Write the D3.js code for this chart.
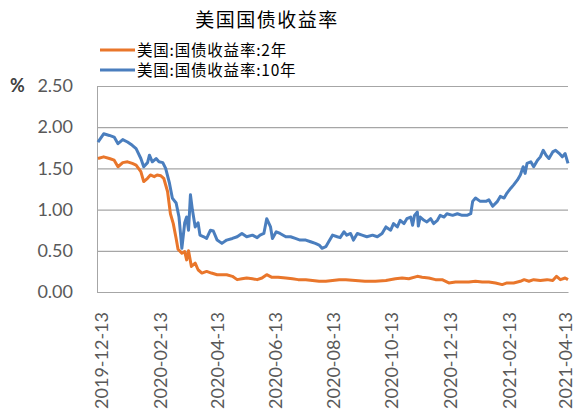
<!DOCTYPE html>
<html>
<head>
<meta charset="utf-8">
<script src="https://cdn.jsdelivr.net/npm/d3@7"></script>
<style>
  html, body { margin: 0; padding: 0; background: #fff; }
  svg { display: block; }
  .cjk { font-family: "Noto Sans CJK SC", "Noto Sans", sans-serif; }
  .num { font-family: Lato, "Open Sans", sans-serif; }
</style>
</head>
<body>
<svg id="chart" width="576" height="416"></svg>
<script>
// US Treasury yields, daily closes sampled (percent)
const dates10 = [
  "2019-12-10","2019-12-16","2019-12-22","2019-12-27","2019-12-31","2020-01-05","2020-01-10","2020-01-15",
  "2020-01-19","2020-01-24","2020-01-27","2020-01-31","2020-02-02","2020-02-05","2020-02-09","2020-02-12",
  "2020-02-16","2020-02-19","2020-02-23","2020-02-26","2020-03-01","2020-03-04","2020-03-07","2020-03-10",
  "2020-03-12","2020-03-14","2020-03-16","2020-03-18","2020-03-21","2020-03-24","2020-03-26","2020-03-30",
  "2020-04-02","2020-04-06","2020-04-09","2020-04-13","2020-04-18","2020-04-23","2020-04-29","2020-05-04",
  "2020-05-09","2020-05-14","2020-05-20","2020-05-25","2020-05-28","2020-06-01","2020-06-04","2020-06-08",
  "2020-06-10","2020-06-14","2020-06-18","2020-06-24","2020-06-29","2020-07-04","2020-07-09","2020-07-15",
  "2020-07-20","2020-07-25","2020-07-29","2020-08-01","2020-08-05","2020-08-08","2020-08-12","2020-08-17",
  "2020-08-20","2020-08-24","2020-08-27","2020-08-31","2020-09-03","2020-09-07","2020-09-12","2020-09-17",
  "2020-09-23","2020-09-28","2020-10-03","2020-10-07","2020-10-12","2020-10-15","2020-10-19","2020-10-22",
  "2020-10-26","2020-10-29","2020-11-02","2020-11-04","2020-11-06","2020-11-09","2020-11-10","2020-11-12",
  "2020-11-16","2020-11-19","2020-11-23","2020-11-26","2020-11-30","2020-12-03","2020-12-07","2020-12-10",
  "2020-12-16","2020-12-21","2020-12-26","2020-12-31","2021-01-04","2021-01-06","2021-01-09","2021-01-14",
  "2021-01-20","2021-01-23","2021-01-27","2021-02-01","2021-02-04","2021-02-08","2021-02-11","2021-02-15",
  "2021-02-18","2021-02-22","2021-02-25","2021-02-28","2021-03-02","2021-03-04","2021-03-08","2021-03-11",
  "2021-03-15","2021-03-18","2021-03-21","2021-03-24","2021-03-27","2021-03-31","2021-04-03","2021-04-07",
  "2021-04-10","2021-04-13","2021-04-16"
];
const yield10 = [
  1.82,1.92,1.90,1.88,1.80,1.85,1.82,1.78,
  1.74,1.62,1.52,1.57,1.66,1.58,1.62,1.58,
  1.57,1.50,1.32,1.14,1.08,0.91,0.53,0.84,
  0.91,0.75,1.18,1.00,0.79,0.84,0.69,0.67,
  0.65,0.75,0.74,0.63,0.59,0.63,0.65,0.67,
  0.71,0.67,0.69,0.66,0.69,0.71,0.89,0.79,
  0.65,0.73,0.71,0.67,0.67,0.65,0.63,0.63,
  0.61,0.59,0.57,0.53,0.55,0.61,0.69,0.67,
  0.66,0.73,0.69,0.71,0.63,0.71,0.69,0.67,
  0.69,0.67,0.71,0.79,0.75,0.83,0.79,0.87,
  0.83,0.89,0.91,0.81,0.93,0.97,0.80,0.91,
  0.87,0.85,0.89,0.83,0.87,0.93,0.91,0.95,
  0.93,0.95,0.93,0.93,0.95,1.10,1.14,1.10,
  1.10,1.12,1.04,1.10,1.16,1.14,1.20,1.26,
  1.30,1.36,1.42,1.52,1.44,1.56,1.58,1.52,
  1.60,1.64,1.72,1.66,1.62,1.70,1.72,1.68,
  1.64,1.68,1.56
];

const dates2 = [
  "2019-12-10","2019-12-16","2019-12-22","2019-12-27","2019-12-31","2020-01-05","2020-01-10","2020-01-15",
  "2020-01-19","2020-01-24","2020-01-27","2020-01-31","2020-02-03","2020-02-07","2020-02-10","2020-02-14",
  "2020-02-17","2020-02-21","2020-02-24","2020-02-27","2020-03-01","2020-03-03","2020-03-07","2020-03-10",
  "2020-03-12","2020-03-14","2020-03-17","2020-03-21","2020-03-24","2020-03-28","2020-04-02","2020-04-07",
  "2020-04-13","2020-04-18","2020-04-23","2020-04-29","2020-05-04","2020-05-09","2020-05-14","2020-05-20",
  "2020-05-25","2020-05-30","2020-06-04","2020-06-09","2020-06-16","2020-06-24","2020-07-01","2020-07-07",
  "2020-07-15","2020-07-22","2020-07-29","2020-08-05","2020-08-12","2020-08-19","2020-08-26","2020-09-05",
  "2020-09-15","2020-09-26","2020-10-07","2020-10-17","2020-10-24","2020-10-31","2020-11-09","2020-11-14",
  "2020-11-21","2020-11-28","2020-12-05","2020-12-12","2020-12-19","2020-12-26","2021-01-02","2021-01-09",
  "2021-01-16","2021-01-23","2021-01-30","2021-02-06","2021-02-11","2021-02-18","2021-02-25","2021-03-01",
  "2021-03-06","2021-03-11","2021-03-18","2021-03-25","2021-03-31","2021-04-04","2021-04-08","2021-04-13",
  "2021-04-16"
];
const yield2 = [
  1.62,1.64,1.62,1.60,1.52,1.57,1.58,1.56,
  1.54,1.46,1.34,1.38,1.42,1.40,1.42,1.41,
  1.38,1.22,0.95,0.83,0.65,0.52,0.47,0.49,
  0.39,0.50,0.31,0.35,0.27,0.23,0.25,0.23,
  0.21,0.21,0.21,0.19,0.15,0.16,0.17,0.16,
  0.15,0.17,0.21,0.18,0.18,0.17,0.16,0.15,
  0.15,0.14,0.13,0.13,0.14,0.15,0.15,0.14,
  0.13,0.13,0.14,0.16,0.17,0.16,0.19,0.18,
  0.17,0.15,0.15,0.11,0.12,0.12,0.12,0.13,
  0.12,0.12,0.11,0.09,0.11,0.11,0.13,0.15,
  0.13,0.15,0.14,0.15,0.14,0.19,0.15,0.17,
  0.15
];

const xTickLabels = [
  "2019-12-13","2020-02-13","2020-04-13","2020-06-13","2020-08-13",
  "2020-10-13","2020-12-13","2021-02-13","2021-04-13"
];
const yTicks = [0, 0.5, 1.0, 1.5, 2.0, 2.5];

const titleText = "美国国债收益率";
const seriesNames = ["美国:国债收益率:2年", "美国:国债收益率:10年"];
const seriesColors = ["#E9762B", "#4A7EBE"];

const parse = d3.timeParse("%Y-%m-%d");
const svg = d3.select("#chart");

const margin = { left: 97, right: 8, top: 86, bottom: 124 };
const W = 576, H = 416;

const x = d3.scaleTime()
  .domain([parse("2019-12-09"), parse("2021-04-16")])
  .range([margin.left, W - margin.right]);
const y = d3.scaleLinear()
  .domain([0, 2.5])
  .range([H - margin.bottom, margin.top]);

// horizontal gridlines
const yAxis = d3.axisLeft(y)
  .tickValues(yTicks)
  .tickSize(-(W - margin.right - margin.left))
  .tickFormat(d => d.toFixed(2));
const gy = svg.append("g")
  .attr("transform", `translate(${margin.left},0)`)
  .call(yAxis);
gy.select(".domain").attr("stroke", "#A6A6A6");
gy.selectAll(".tick line").attr("stroke", "#A6A6A6").attr("stroke-width", 1.2);
gy.selectAll(".tick text")
  .attr("class", "num")
  .attr("x", -24)
  .attr("fill", "#595959")
  .attr("font-size", 18);

// unit label beside the top tick
svg.append("text")
  .attr("class", "num")
  .attr("x", 10)
  .attr("y", y(2.5))
  .attr("dy", "0.35em")
  .attr("fill", "#404040")
  .attr("font-size", 18)
  .attr("font-weight", "bold")
  .text("%");

// x axis
const xAxis = d3.axisBottom(x)
  .tickValues(xTickLabels.map(parse))
  .tickSize(0)
  .tickFormat(d3.timeFormat("%Y-%m-%d"));
const gx = svg.append("g")
  .attr("transform", `translate(0,${y(0)})`)
  .call(xAxis);
gx.select(".domain").attr("stroke", "#A6A6A6").attr("stroke-width", 1.2);
gx.selectAll(".tick text")
  .attr("class", "num")
  .attr("fill", "#595959")
  .attr("font-size", 18)
  .attr("text-anchor", "end")
  .attr("transform", "rotate(-90)")
  .attr("x", -20)
  .attr("y", 0)
  .attr("dy", "0.35em");

// series lines
const line = d3.line()
  .x(d => x(d.date))
  .y(d => y(d.value));

const s2 = dates2.map((d, i) => ({ date: parse(d), value: yield2[i] }));
const s10 = dates10.map((d, i) => ({ date: parse(d), value: yield10[i] }));

[s2, s10].forEach((s, i) => {
  svg.append("path")
    .datum(s)
    .attr("fill", "none")
    .attr("stroke", seriesColors[i])
    .attr("stroke-width", 3)
    .attr("stroke-linejoin", "round")
    .attr("d", line);
});

// title
svg.append("text")
  .attr("class", "cjk")
  .attr("x", 267)
  .attr("y", 27)
  .attr("text-anchor", "middle")
  .attr("fill", "#000")
  .attr("font-size", 19)
  .attr("letter-spacing", 1.5)
  .text(titleText);

// legend
const legend = svg.append("g");
seriesNames.forEach((name, i) => {
  const ly = 50 + i * 20;
  legend.append("line")
    .attr("x1", 100).attr("x2", 135)
    .attr("y1", ly).attr("y2", ly)
    .attr("stroke", seriesColors[i])
    .attr("stroke-width", 3);
  legend.append("text")
    .attr("class", "cjk")
    .attr("x", 137)
    .attr("y", ly)
    .attr("dy", "0.36em")
    .attr("font-size", 15.5)
    .attr("letter-spacing", 0.8)
    .attr("fill", "#000")
    .text(name);
});
</script>
</body>
</html>
